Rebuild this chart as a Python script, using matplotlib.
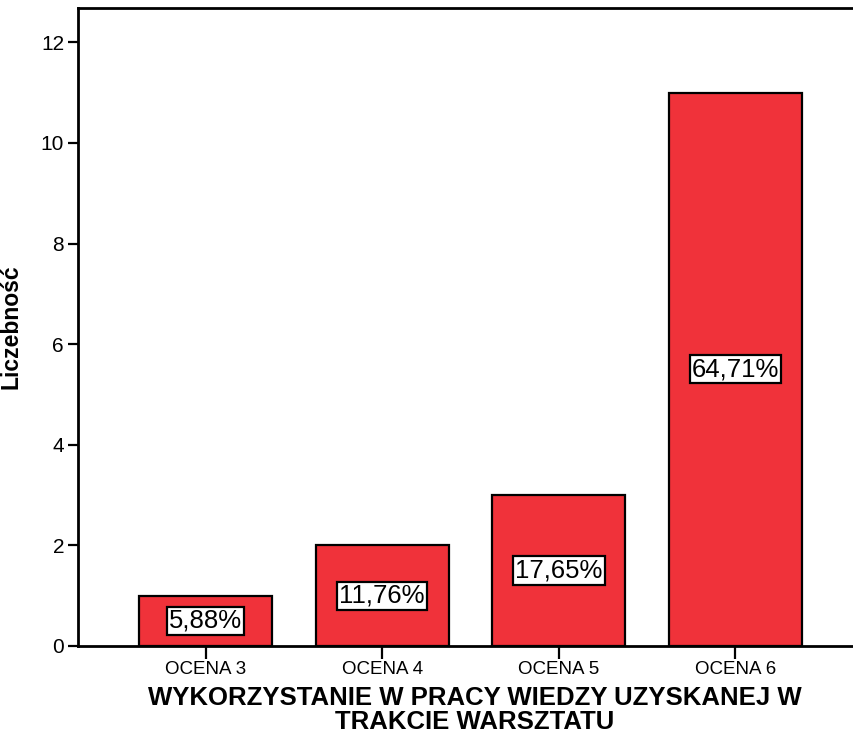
import matplotlib.pyplot as plt

categories = ['OCENA 3', 'OCENA 4', 'OCENA 5', 'OCENA 6']
counts = [1, 2, 3, 11]
pct_labels = ['5,88%', '11,76%', '17,65%', '64,71%']
y_ticks = [0, 2, 4, 6, 8, 10, 12]

BAR_COLOR = '#F0323A'

plt.rcParams['font.family'] = ['Liberation Sans', 'DejaVu Sans']

fig = plt.figure(figsize=(8.54, 7.33), dpi=100)
ax = fig.add_axes([0.0913, 0.1187, 0.95, 0.8703])

x = list(range(len(categories)))
ax.bar(x, counts, width=0.753, color=BAR_COLOR, edgecolor='black', linewidth=1.6, zorder=2)

for xi, c, lab in zip(x, counts, pct_labels):
    ax.text(xi, c / 2, lab, ha='center', va='center', fontsize=18.5, zorder=3,
            bbox=dict(boxstyle='square,pad=0.08', facecolor='white', edgecolor='black', linewidth=1.6))

ax.set_xlim(-0.722, 3.668 + (0.95 - 0.908) / 0.908 * 4.39)
ax.set_ylim(0, 12.68)
ax.set_xticks(x)
ax.set_xticklabels(categories, fontsize=13.5)
ax.set_yticks(y_ticks)
ax.set_yticklabels([str(t) for t in y_ticks], fontsize=15)
ax.tick_params(axis='y', length=7, width=1.6, direction='out', pad=3)
ax.tick_params(axis='x', length=9, width=1.6, direction='out', pad=2)

for side in ['left', 'bottom', 'top']:
    ax.spines[side].set_linewidth(2)
ax.spines['right'].set_visible(False)

ax.set_ylabel('Liczebność', fontsize=16.5, fontweight='bold')
ax.yaxis.set_label_coords(-0.068, 0.5)
fig.text(0.556, 0.031, 'WYKORZYSTANIE W PRACY WIEDZY UZYSKANEJ W\nTRAKCIE WARSZTATU',
         ha='center', va='center', fontsize=18.5, fontweight='bold', linespacing=1.02)

fig.savefig('out.png', dpi=100)
